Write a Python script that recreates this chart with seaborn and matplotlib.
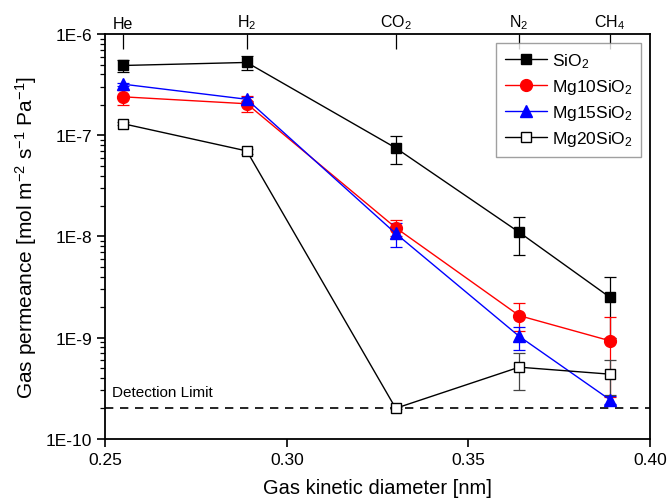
import numpy as np
import seaborn as sns
import pandas as pd
import matplotlib
matplotlib.use('Agg')
import matplotlib.pyplot as plt
from matplotlib.ticker import FixedLocator, FuncFormatter, LogLocator, NullFormatter

# data
gases = ['He', 'H$_2$', 'CO$_2$', 'N$_2$', 'CH$_4$']
diam = [0.255, 0.289, 0.330, 0.364, 0.389]

sio2 = [4.9e-7, 5.25e-7, 7.5e-8, 1.1e-8, 2.5e-9]
sio2_lo = [4.25e-7, 4.4e-7, 5.2e-8, 6.6e-9, 1.0e-9]
sio2_hi = [5.55e-7, 6.1e-7, 9.9e-8, 1.55e-8, 4.0e-9]

mg10 = [2.4e-7, 2.05e-7, 1.22e-8, 1.65e-9, 9.3e-10]
mg10_lo = [2.0e-7, 1.7e-7, 1.0e-8, 1.15e-9, 2.6e-10]
mg10_hi = [2.8e-7, 2.45e-7, 1.44e-8, 2.2e-9, 1.6e-9]

mg15 = [3.2e-7, 2.27e-7, 1.07e-8, 1.03e-9, 2.43e-10]
mg15_lo = [3.1e-7, 2.17e-7, 7.9e-9, 7.6e-10, 2.2e-10]
mg15_hi = [3.3e-7, 2.37e-7, 1.35e-8, 1.26e-9, 2.65e-10]

mg20 = [1.3e-7, 7.0e-8, 2.0e-10, 5.1e-10, 4.35e-10]
mg20_lo = [1.25e-7, 6.6e-8, 1.95e-10, 3.0e-10, 2.7e-10]
mg20_hi = [1.35e-7, 7.4e-8, 2.05e-10, 7.1e-10, 6.0e-10]

detection_limit = 2e-10

sns.set_style('ticks')
plt.rcParams['font.family'] = ['Liberation Sans', 'DejaVu Sans']
plt.rcParams['mathtext.fontset'] = 'custom'
plt.rcParams['mathtext.rm'] = 'Liberation Sans'
plt.rcParams['mathtext.it'] = 'Liberation Sans:italic'
for k in ['text.color', 'axes.labelcolor', 'xtick.color', 'ytick.color', 'axes.edgecolor']:
    plt.rcParams[k] = 'black'

fig = plt.figure(figsize=(6.7, 5.02), dpi=100)
ax = fig.add_axes([0.157, 0.124, 0.813, 0.806])

series = [
    ('SiO$_2$', sio2, sio2_lo, sio2_hi, 'black', 's', 'black', 'black'),
    ('Mg10SiO$_2$', mg10, mg10_lo, mg10_hi, 'red', 'o', 'red', 'red'),
    ('Mg15SiO$_2$', mg15, mg15_lo, mg15_hi, 'blue', '^', 'blue', 'blue'),
    ('Mg20SiO$_2$', mg20, mg20_lo, mg20_hi, 'black', 's', 'white', '#444444'),
]
msize = {'s': 7, 'o': 8.5, '^': 8.5}

for name, vals, lo, hi, col, mk, face, ecol in series:
    vals = np.array(vals)
    yerr = [vals - np.array(lo), np.array(hi) - vals]
    ax.errorbar(diam, vals, yerr=yerr, fmt='none', ecolor=ecol,
                elinewidth=0.9, capsize=4, capthick=0.9, zorder=2)
    df = pd.DataFrame({'d': diam, 'p': vals})
    sns.lineplot(data=df, x='d', y='p', ax=ax, color=col, marker=mk,
                 markersize=msize[mk], markerfacecolor=face,
                 markeredgecolor=col, markeredgewidth=1.0,
                 linewidth=1.0, label=name, zorder=3)

ax.axhline(detection_limit, color='black', ls='--', lw=1.2, dashes=(5, 4), zorder=1)
ax.text(0.252, 2.45e-10, 'Detection Limit', fontsize=11, va='bottom', ha='left')

ax.set_yscale('log')
ax.set_xlim(0.25, 0.40)
ax.set_ylim(1e-10, 1e-6)
ax.set_xticks([0.25, 0.30, 0.35, 0.40])
ax.xaxis.set_major_formatter(FuncFormatter(lambda v, p: f'{v:.2f}'))
ax.yaxis.set_major_locator(FixedLocator([1e-10, 1e-9, 1e-8, 1e-7, 1e-6]))
ax.yaxis.set_major_formatter(FuncFormatter(lambda v, p: f'1E{int(round(np.log10(v)))}'))
ax.yaxis.set_minor_locator(LogLocator(base=10, subs=np.arange(2, 10)))
ax.yaxis.set_minor_formatter(NullFormatter())

ax.tick_params(axis='both', which='major', direction='out', length=6, width=1.2,
               labelsize=12.5, color='black', labelcolor='black')
ax.tick_params(axis='y', which='minor', direction='out', length=3.5, width=0.9)
ax.tick_params(top=False, right=False)

for sp in ax.spines.values():
    sp.set_visible(True)
    sp.set_linewidth(1.3)
    sp.set_color('black')

ax.set_xlabel('Gas kinetic diameter [nm]', fontsize=14.5, labelpad=8)
ax.set_ylabel('Gas permeance [mol m$^{-2}$ s$^{-1}$ Pa$^{-1}$]', fontsize=15, labelpad=5)

top = ax.secondary_xaxis('top')
top.set_xticks(diam, labels=gases)
top.tick_params(direction='in', length=11, width=0.9, labelsize=11.5, pad=2,
                labelcolor='black', color='black')
top.spines['top'].set_visible(False)

leg = ax.legend(loc='upper right', fontsize=12.5, frameon=True, fancybox=False,
                handlelength=2.4, borderaxespad=0.5, labelspacing=0.4,
                handletextpad=0.3, borderpad=0.5)
leg.get_frame().set_edgecolor('#888888')
leg.get_frame().set_linewidth(1.0)

fig.savefig('out.png', dpi=100)
